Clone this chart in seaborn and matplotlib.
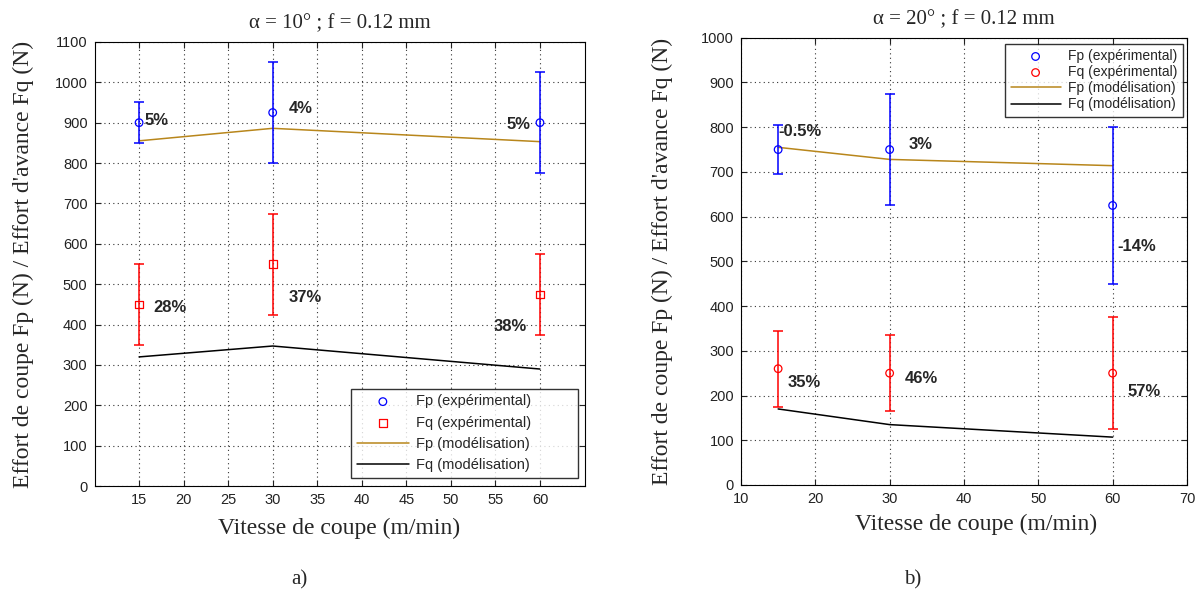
import numpy as np
import pandas as pd
import seaborn as sns
import matplotlib.pyplot as plt

# vitesse de coupe (m/min)
speeds = [15, 30, 60]

# alpha = 10 deg
fp_exp_10 = [900, 925, 900]
fp_err_10 = [50, 125, 125]
fq_exp_10 = [450, 550, 475]
fq_err_10 = [100, 125, 100]
fp_mod_10 = [855, 886, 853]
fq_mod_10 = [320, 347, 290]
fp_lab_10 = ["5%", "4%", "5%"]
fq_lab_10 = ["28%", "37%", "38%"]

# alpha = 20 deg
fp_exp_20 = [750, 750, 625]
fp_err_20 = [55, 125, 175]
fq_exp_20 = [260, 250, 250]
fq_err_20 = [85, 85, 125]
fp_mod_20 = [755, 728, 714]
fq_mod_20 = [170, 135, 107]
fp_lab_20 = ["-0.5%", "3%", "-14%"]
fq_lab_20 = ["35%", "46%", "57%"]

GOLD = "#B8861B"
SERIF = "Liberation Serif"
SANS = "Liberation Sans"


def panel(ax, fp, fp_e, fq, fq_e, fp_m, fq_m, fq_marker):
    ax.errorbar(speeds, fp, yerr=fp_e, fmt="none", ecolor="#0000ff", elinewidth=1.1,
                capsize=3.5, capthick=1.1, zorder=3)
    ax.errorbar(speeds, fq, yerr=fq_e, fmt="none", ecolor="#ff0000", elinewidth=1.1,
                capsize=3.5, capthick=1.1, zorder=3)
    sns.scatterplot(x=speeds, y=fp, ax=ax, marker="o", s=30, facecolor="none",
                    edgecolor="#0000ff", linewidth=0.9, label="Fp (expérimental)", zorder=4)
    sns.scatterplot(x=speeds, y=fq, ax=ax, marker=fq_marker, s=30, facecolor="none",
                    edgecolor="#ff0000", linewidth=0.9, label="Fq (expérimental)", zorder=4)
    sns.lineplot(x=speeds, y=fp_m, ax=ax, color=GOLD, lw=1.1, label="Fp (modélisation)")
    sns.lineplot(x=speeds, y=fq_m, ax=ax, color="black", lw=1.1, label="Fq (modélisation)")
    ax.grid(True, linestyle=(0, (1, 3)), color="#333333", lw=0.8)
    for s in ax.spines.values():
        s.set_visible(True)
        s.set_color("black")
    ax.tick_params(direction="in", length=4, labelsize=10.5, colors="#222222", pad=5,
                   top=True, right=True, bottom=True, left=True)
    for t in ax.get_xticklabels() + ax.get_yticklabels():
        t.set_family(SANS)
    ax.set_xlabel("Vitesse de coupe (m/min)", fontsize=17, family=SERIF, labelpad=8)
    ax.set_ylabel("Effort de coupe Fp (N) / Effort d'avance Fq (N)", fontsize=17,
                  family=SERIF)


def legend(ax, box, loc, spacing, size):
    leg = ax.legend(loc=loc, bbox_to_anchor=box, mode="expand",
                    prop={"family": SANS, "size": size}, frameon=True, fancybox=False,
                    edgecolor="black", handlelength=3.6, handletextpad=0.5,
                    borderaxespad=0, labelspacing=spacing)
    leg.get_frame().set_linewidth(1)
    return leg


sns.set_style("white")
fig = plt.figure(figsize=(11.98, 5.9), dpi=100)
ax1 = fig.add_axes([0.0789, 0.176, 0.409, 0.753])
ax2 = fig.add_axes([0.6185, 0.178, 0.3723, 0.758])

panel(ax1, fp_exp_10, fp_err_10, fq_exp_10, fq_err_10, fp_mod_10, fq_mod_10, "s")
ax1.set_xlim(10, 65)
ax1.set_ylim(0, 1100)
ax1.set_xticks(np.arange(15, 61, 5))
ax1.set_yticks(np.arange(0, 1101, 100))
ax1.set_title("α = 10° ; f = 0.12 mm", fontsize=15, family=SERIF, pad=10)
ax1.yaxis.set_label_coords(-0.123, 0.5)
fp_pos_10 = [(15.6, 905), (31.8, 935), (56.3, 895)]
fq_pos_10 = [(16.6, 443), (31.8, 468), (54.8, 396)]
for (x, y), t in zip(fp_pos_10 + fq_pos_10, fp_lab_10 + fq_lab_10):
    ax1.text(x, y, t, fontsize=12, fontweight="bold", family=SANS, va="center")
legend(ax1, (0.523, 0.018, 0.464, 0.205), "lower left", 0.5, 10.5)

panel(ax2, fp_exp_20, fp_err_20, fq_exp_20, fq_err_20, fp_mod_20, fq_mod_20, "o")
ax2.set_xlim(10, 70)
ax2.set_ylim(0, 1000)
ax2.set_xticks(np.arange(10, 71, 10))
ax2.set_yticks(np.arange(0, 1001, 100))
ax2.set_title("α = 20° ; f = 0.12 mm", fontsize=15, family=SERIF, pad=10)
ax2.yaxis.set_label_coords(-0.152, 0.5)
ax2.xaxis.set_label_coords(0.527, -0.064)
fp_pos_20 = [(15.1, 790), (32.5, 761), (60.6, 534)]
fq_pos_20 = [(16.3, 230), (32.1, 239), (62.0, 208)]
for (x, y), t in zip(fp_pos_20 + fq_pos_20, fp_lab_20 + fq_lab_20):
    ax2.text(x, y, t, fontsize=12, fontweight="bold", family=SANS, va="center")
legend(ax2, (0.592, 0.814, 0.399, 0.173), "upper left", 0.15, 10)

fig.text(0.2496, 0.017, "a)", fontsize=15, family=SERIF, ha="center", va="center")
fig.text(0.762, 0.017, "b)", fontsize=15, family=SERIF, ha="center", va="center")

fig.savefig("out.png", dpi=100)
